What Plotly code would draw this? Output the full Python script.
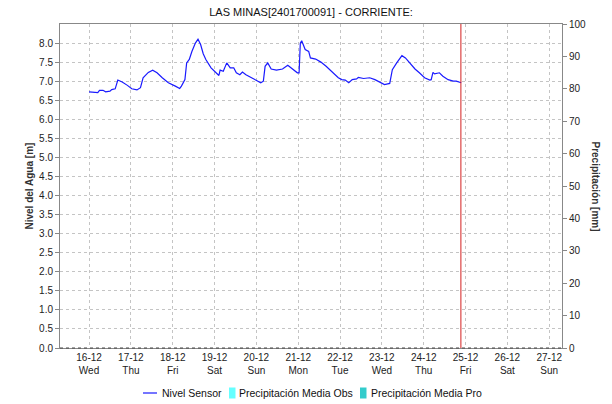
import pandas as pd
import plotly.graph_objects as go

# Sensor water level: hours after 2020-12-16 00:00 and level in metres
hours = [0, 5, 6, 8, 9.5, 12, 13, 15, 16.5, 19, 22, 24.5, 27.5, 29.5, 31, 32, 34,
         36.5, 39, 42, 45.5, 49.5, 52, 53, 55, 56, 57.5, 59, 61, 62.5, 64, 65.5,
         67, 70, 73, 74.5, 75.2, 77, 79, 81, 83, 84.5, 86.5, 88, 90, 93, 96,
         98.5, 100, 101, 102.5, 104.5, 107.5, 111, 114, 117, 119.5, 120.5, 121.2,
         122, 123, 124, 126, 127, 130, 133, 136, 138, 140, 143, 145, 147, 149,
         151, 153.5, 154.5, 157.5, 161, 164, 167, 169.5, 172.5, 174, 176.5,
         179.5, 181.5, 184, 187, 189.5, 192.5, 195.5, 196.3, 197.3, 198.2, 201,
         203, 206, 209, 210.7, 213.5]
level = [6.72, 6.70, 6.76, 6.76, 6.72, 6.74, 6.78, 6.80, 7.03, 6.98, 6.89, 6.80,
         6.77, 6.83, 7.09, 7.13, 7.23, 7.29, 7.22, 7.09, 6.96, 6.87, 6.81, 6.87,
         7.04, 7.48, 7.57, 7.78, 8.00, 8.10, 7.96, 7.72, 7.57, 7.35, 7.22, 7.15,
         7.29, 7.26, 7.48, 7.35, 7.35, 7.22, 7.17, 7.24, 7.17, 7.09, 7.03, 6.96,
         7.00, 7.39, 7.48, 7.32, 7.29, 7.32, 7.42, 7.32, 7.22, 7.22, 8.00, 8.06,
         7.96, 7.83, 7.78, 7.61, 7.58, 7.50, 7.39, 7.30, 7.22, 7.09, 7.04, 7.03,
         6.96, 7.04, 7.06, 7.10, 7.07, 7.09, 7.04, 6.96, 6.91, 6.94, 7.30, 7.48,
         7.67, 7.61, 7.48, 7.32, 7.22, 7.09, 7.03, 7.04, 7.23, 7.19, 7.22, 7.13,
         7.04, 7.00, 7.00, 6.96]

# Daily precipitation (mm): observed and forecast, all zero in this window
precip_obs_time = ["2020-12-16", "2020-12-17", "2020-12-18", "2020-12-19",
                   "2020-12-20", "2020-12-21", "2020-12-22", "2020-12-23",
                   "2020-12-24"]
precip_obs = [0, 0, 0, 0, 0, 0, 0, 0, 0]
precip_pro_time = ["2020-12-25", "2020-12-26", "2020-12-27"]
precip_pro = [0, 0, 0]

tick_days = ["2020-12-16", "2020-12-17", "2020-12-18", "2020-12-19", "2020-12-20",
             "2020-12-21", "2020-12-22", "2020-12-23", "2020-12-24", "2020-12-25",
             "2020-12-26", "2020-12-27"]
tick_text = ["16-12<br>Wed", "17-12<br>Thu", "18-12<br>Fri", "19-12<br>Sat",
             "20-12<br>Sun", "21-12<br>Mon", "22-12<br>Tue", "23-12<br>Wed",
             "24-12<br>Thu", "25-12<br>Fri", "26-12<br>Sat", "27-12<br>Sun"]
level_ticks = [0.0, 0.5, 1.0, 1.5, 2.0, 2.5, 3.0, 3.5, 4.0, 4.5, 5.0, 5.5, 6.0,
               6.5, 7.0, 7.5, 8.0]

now_marker = "2020-12-24 21:20"
x_start, x_end = "2020-12-15 07:20", "2020-12-27 07:20"

start = pd.Timestamp("2020-12-16 00:00")
times = [start + pd.Timedelta(hours=h) for h in hours]

FONT = "Liberation Sans, Arial, sans-serif"
GRID = "#c4c4c4"
AXIS = "#888888"
LEVEL_COLOR = "#1a1aff"
OBS_COLOR = "#66ffff"
PRO_COLOR = "#33cccc"

W, H = 612, 404
ML, MR, MT, MB = 60, 50, 24, 56
PW, PH = W - ML - MR, H - MT - MB


def px(x):
    """Page pixel column -> paper x."""
    return (x - ML) / PW


def py(y):
    """Page pixel row -> paper y."""
    return (H - MB - y) / PH


fig = go.Figure()
fig.add_trace(go.Scatter(x=times, y=level, mode="lines", name="Nivel Sensor",
                         line=dict(color=LEVEL_COLOR, width=1.2), showlegend=False))
fig.add_trace(go.Bar(x=precip_obs_time, y=precip_obs, name="Precipitación Media Obs",
                     marker=dict(color=OBS_COLOR, line=dict(width=0)), yaxis="y2",
                     showlegend=False))
fig.add_trace(go.Bar(x=precip_pro_time, y=precip_pro, name="Precipitación Media Pro",
                     marker=dict(color=PRO_COLOR, line=dict(width=0)), yaxis="y2",
                     showlegend=False))

# Legend row below the x axis: key swatch followed by the series name
legend_y = 393
legend_items = [
    ("line", LEVEL_COLOR, 143, 157, "Nivel Sensor", 160),
    ("box", OBS_COLOR, 229, 235.5, "Precipitación Media Obs", 237),
    ("box", PRO_COLOR, 360, 366.5, "Precipitación Media Pro", 369),
]
legend_shapes, legend_texts = [], []
for kind, color, x0, x1, label, tx in legend_items:
    if kind == "line":
        legend_shapes.append(dict(type="line", xref="paper", yref="paper",
                                  x0=px(x0), x1=px(x1), y0=py(legend_y),
                                  y1=py(legend_y), line=dict(color=color, width=1.2)))
    else:
        legend_shapes.append(dict(type="rect", xref="paper", yref="paper",
                                  x0=px(x0), x1=px(x1), y0=py(legend_y + 5.5),
                                  y1=py(legend_y - 5.5), fillcolor=color,
                                  line=dict(width=0)))
    legend_texts.append(dict(text=label, xref="paper", yref="paper", x=px(tx),
                             y=py(legend_y), xanchor="left", yanchor="middle",
                             showarrow=False,
                             font=dict(size=10.5, color="#111111")))

fig.update_layout(
    width=W, height=H,
    margin=dict(l=ML, r=MR, t=MT, b=MB),
    paper_bgcolor="white", plot_bgcolor="white",
    font=dict(family=FONT, size=10, color="#222222"),
    title=dict(text="LAS MINAS[2401700091] - CORRIENTE:", x=0.5, xref="paper",
               y=1 - 12 / H, yref="container", yanchor="middle",
               font=dict(size=11, color="#111111")),
    xaxis=dict(type="date", range=[x_start, x_end], tickvals=tick_days,
               ticktext=tick_text, tickangle=0, showgrid=True, gridcolor=GRID,
               griddash="3px,3px", gridwidth=1, showline=True, linecolor=AXIS,
               mirror=True, ticks="", tickfont=dict(size=10), zeroline=False,
               automargin=False),
    yaxis=dict(range=[0, 8.5], tickvals=level_ticks, tickformat=".1f",
               showgrid=True, gridcolor=GRID, griddash="3px,3px", showline=True,
               linecolor=AXIS, ticks="outside", ticklen=4, tickcolor=AXIS,
               zeroline=False, tickfont=dict(size=10), automargin=False),
    yaxis2=dict(range=[0, 100], dtick=10, overlaying="y", side="right",
                showgrid=False, showline=True, linecolor=AXIS, ticks="outside",
                ticklen=4, tickcolor=AXIS, zeroline=False, tickfont=dict(size=10),
                automargin=False),
    showlegend=False,
    shapes=[
        dict(type="line", xref="x", yref="paper", x0=now_marker, x1=now_marker,
             y0=0, y1=1, line=dict(color="#d42020", width=1)),
        dict(type="line", xref="paper", yref="paper", x0=0, x1=1, y0=0, y1=0,
             line=dict(color="#444444", width=1, dash="dot")),
    ] + legend_shapes,
    annotations=[
        dict(text="<b>Nivel del Agua [m]</b>", xref="paper", yref="paper",
             x=px(36), y=0.5, xanchor="right", yanchor="middle", textangle=-90,
             showarrow=False, font=dict(size=10, color="#333333")),
        dict(text="<b>Precipitación [mm]</b>", xref="paper", yref="paper",
             x=px(588), y=0.5, xanchor="left", yanchor="middle", textangle=90,
             showarrow=False, font=dict(size=10, color="#333333")),
    ] + legend_texts,
)

fig.write_html("out.html")
